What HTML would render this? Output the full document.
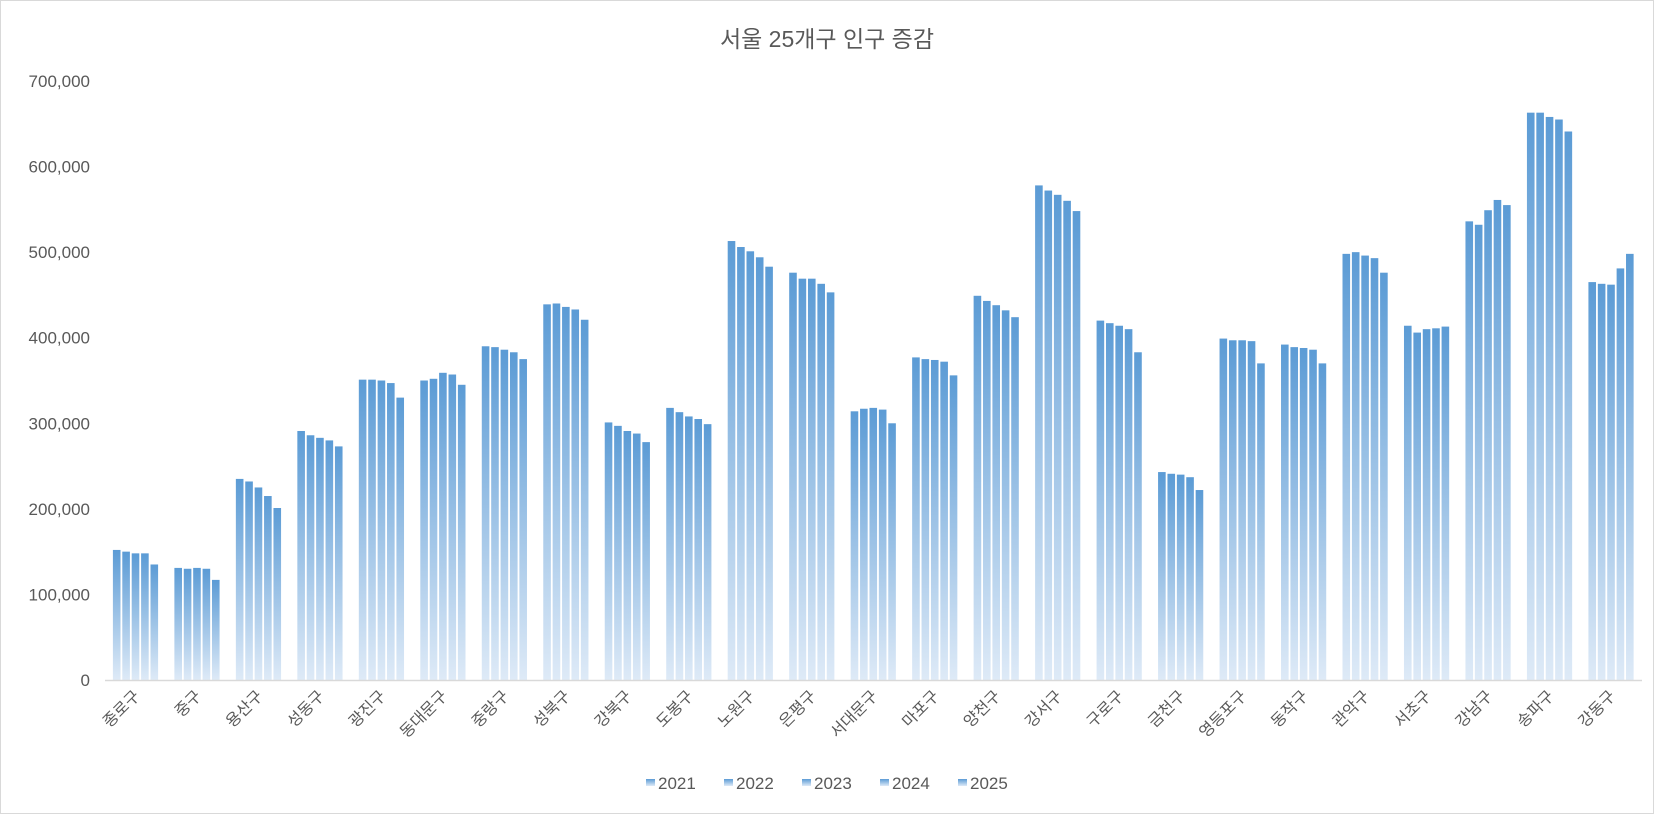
<!DOCTYPE html>
<html><head><meta charset="utf-8"><style>
html,body{margin:0;padding:0;background:#fff}
svg text{font-family:"Liberation Sans","Noto Sans CJK KR",sans-serif;fill:#595959}
</style></head><body>
<svg id="c" width="1654" height="814" xmlns="http://www.w3.org/2000/svg">
<defs><linearGradient id="g" x1="0" y1="0" x2="0" y2="1">
<stop offset="0" stop-color="#5b9bd5"/><stop offset="1" stop-color="#deeaf7"/></linearGradient></defs>
<rect x="0.5" y="0.5" width="1653" height="813" fill="#fff" stroke="#d9d9d9"/>
<text x="827" y="47" font-size="23" text-anchor="middle">서울 25개구 인구 증감</text>
<g id="ax" font-size="17" text-anchor="end"></g>
<g id="bars"></g>
<line x1="105" y1="680.5" x2="1642" y2="680.5" stroke="#d9d9d9" stroke-width="1.5"/>
<g id="lab" font-size="16"></g>
<g id="leg" font-size="17"></g>
</svg>
<script>
var ns="http://www.w3.org/2000/svg";
function el(t,a,p,txt){var e=document.createElementNS(ns,t);for(var k in a)e.setAttribute(k,a[k]);if(txt!=null)e.textContent=txt;p.appendChild(e);return e;}
var names=["종로구","중구","용산구","성동구","광진구","동대문구","중랑구","성북구","강북구","도봉구","노원구","은평구","서대문구","마포구","양천구","강서구","구로구","금천구","영등포구","동작구","관악구","서초구","강남구","송파구","강동구"];
var v=[[152,150,148,148,135],[131,130,131,130,117],[235,232,225,215,201],[291,286,283,280,273],[351,351,350,347,330],[350,352,359,357,345],[390,389,386,383,375],[439,440,436,433,421],[301,297,291,288,278],[318,313,308,305,299],[513,506,501,494,483],[476,469,469,463,453],[314,317,318,316,300],[377,375,374,372,356],[449,443,438,432,424],[578,572,567,560,548],[420,417,414,410,383],[243,241,240,237,222],[399,397,397,396,370],[392,389,388,386,370],[498,500,496,493,476],[414,406,410,411,413],[536,532,549,561,555],[663,663,658,655,641],[465,463,462,481,498]];
var base=680,sc=0.8557;
var ax=document.getElementById("ax");
for(var i=0;i<=7;i++){var y=base-i*100*sc;el("text",{x:90,y:y+6},ax,i==0?"0":(i*100)+",000");}
var b=document.getElementById("bars"),lab=document.getElementById("lab");
var gw=61.48,x0=105;
for(var g=0;g<25;g++){
 var s=x0+g*gw+7.9;
 for(var k=0;k<5;k++){var h=v[g][k]*sc;el("rect",{x:s+k*9.4,y:base-h,width:7.6,height:h,fill:"url(#g)"},b);}
 var cx=x0+g*gw+gw/2+5;
 el("text",{x:cx,y:697,"text-anchor":"end",transform:"rotate(-45 "+cx+" 697)"},lab,names[g]);
}
var leg=document.getElementById("leg");
for(var i=0;i<5;i++){var lx=646+i*78;el("rect",{x:lx,y:779,width:9,height:7,fill:"url(#g)"},leg);el("text",{x:lx+12,y:789},leg,String(2021+i));}
</script>
</body></html>
